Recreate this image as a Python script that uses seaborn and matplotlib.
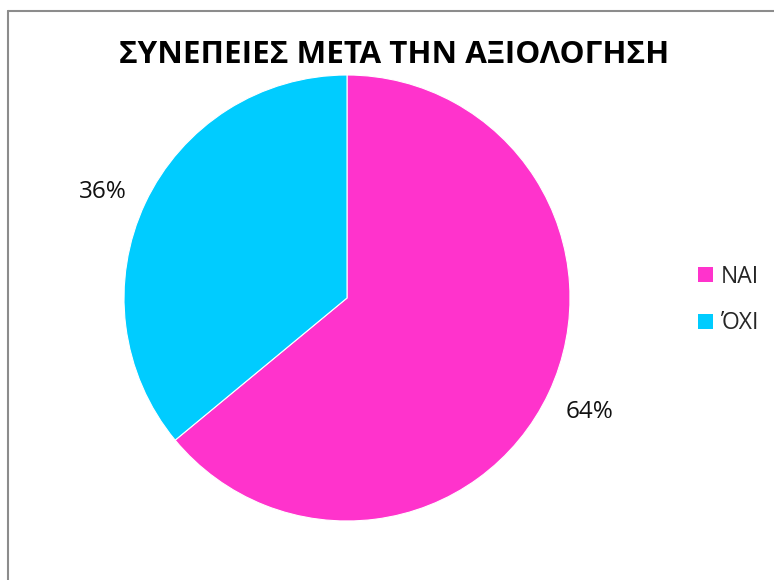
import matplotlib
matplotlib.use("Agg")
import matplotlib.pyplot as plt
from matplotlib.lines import Line2D
from matplotlib.patches import Patch
import seaborn as sns

# Survey answers and their shares (percent)
categories = ["ΝΑΙ", "ΌΧΙ"]
shares = [64, 36]
slice_colors = ["#FF33CC", "#00CCFF"]
title_text = "ΣΥΝΕΠΕΙΕΣ ΜΕΤΑ ΤΗΝ ΑΞΙΟΛΟΓΗΣΗ"

sns.set_theme(style="white")
plt.rcParams["font.family"] = ["Open Sans", "DejaVu Sans"]

W, H, DPI = 774, 580, 100
fig = plt.figure(figsize=(W / DPI, H / DPI), dpi=DPI)
fig.patch.set_facecolor("white")

# Pie centred at (347, 298) px with radius 223 px
cx, cy, r = 347, 298, 223
ax = fig.add_axes([(cx - r) / W, (H - cy - r) / H, 2 * r / W, 2 * r / H])
palette = sns.color_palette(slice_colors)
wedges, texts, autotexts = ax.pie(
    shares,
    colors=palette,
    startangle=90,
    counterclock=False,
    autopct=lambda p: f"{p:.0f}%",
    pctdistance=1.2,
    radius=1.0,
    wedgeprops=dict(edgecolor="white", linewidth=0.8),
    textprops=dict(fontsize=17.5, color="#111111"),
)
ax.set_xlim(-1, 1)
ax.set_ylim(-1, 1)
ax.set_aspect("equal")
ax.axis("off")

# nudge the smaller slice's label slightly down and left
unit = 1.0 / r
x0, y0 = autotexts[1].get_position()
autotexts[1].set_position((x0 - 2 * unit, y0 - 8 * unit))

fig.text(394.5 / W, 1 - 55 / H, title_text, ha="center", va="center",
         fontsize=22.6, fontweight="bold", color="black")

handles = [Patch(facecolor=c, edgecolor="none") for c in palette]
fig.legend(handles, categories, loc="center left",
           bbox_to_anchor=(689 / W, 1 - 300 / H), frameon=False,
           fontsize=16.5, handlelength=0.65, handleheight=0.65,
           handletextpad=0.35, labelspacing=1.0, borderaxespad=0)

# Outer frame: top and left edges
fig.add_artist(Line2D([7.5 / W, 1], [1 - 10.5 / H, 1 - 10.5 / H],
                      transform=fig.transFigure, color="#8c8c8c", linewidth=1.5))
fig.add_artist(Line2D([7.5 / W, 7.5 / W], [0, 1 - 10.5 / H],
                      transform=fig.transFigure, color="#8c8c8c", linewidth=1.5))

fig.savefig("out.png", dpi=DPI, facecolor="white")
